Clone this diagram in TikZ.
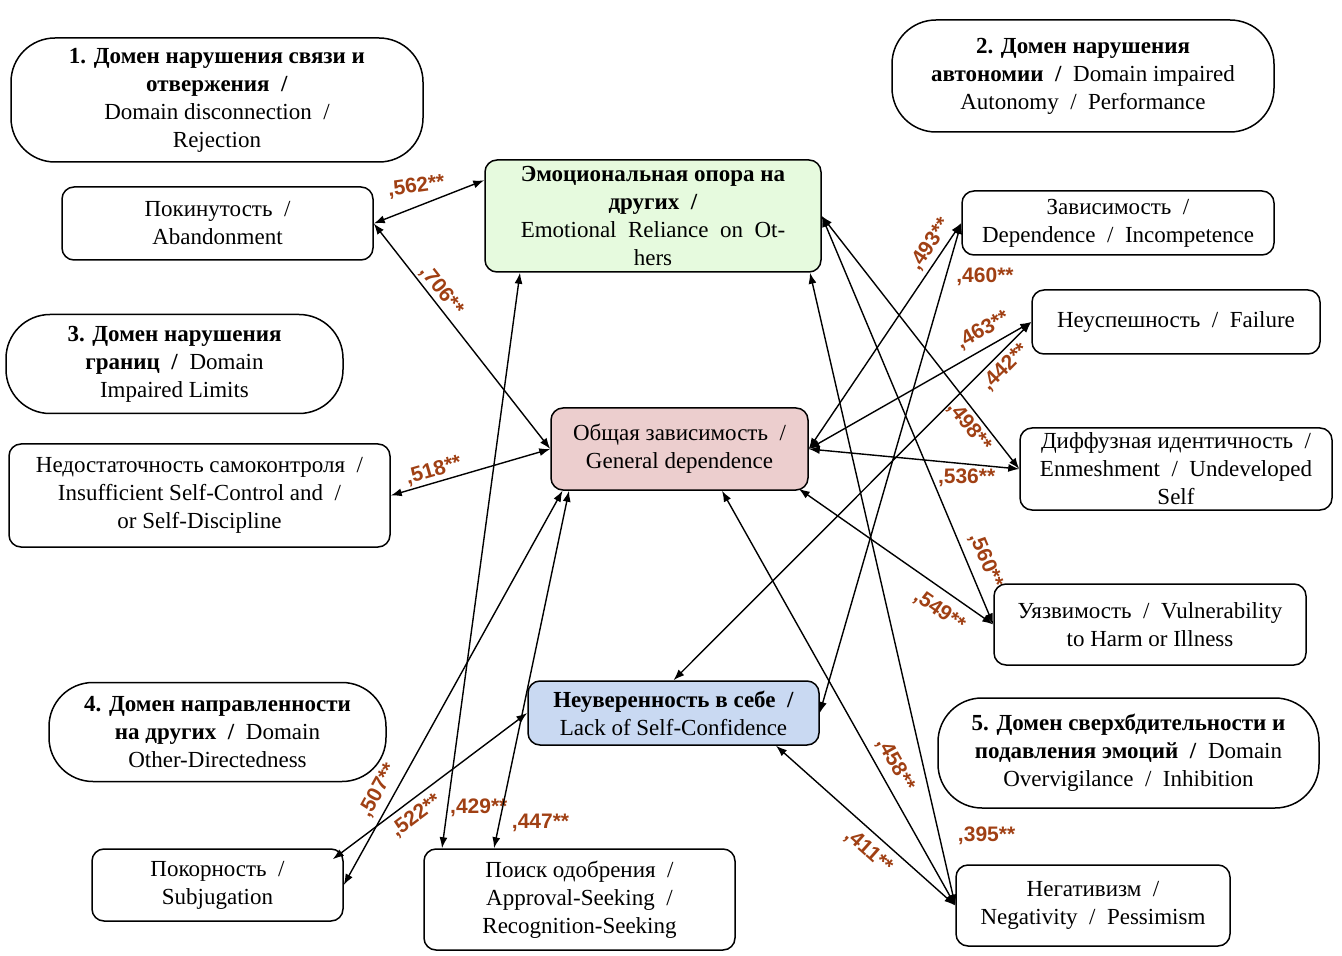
\documentclass[tikz,border=0pt]{standalone}
\usepackage{fontspec}
\setmainfont{Liberation Serif}
\setsansfont{Liberation Sans}
\usetikzlibrary{arrows.meta}

\definecolor{corrc}{RGB}{160,64,20}
\definecolor{ergreen}{RGB}{230,250,222}
\definecolor{gdpink}{RGB}{236,206,206}
\definecolor{lscblue}{RGB}{201,217,242}

\tikzset{
    domainbox/.style={draw, line width=0.75pt, rounded corners=22pt, align=center, inner sep=0pt},
    schemabox/.style={draw, line width=0.75pt, rounded corners=6pt, align=center, inner sep=0pt},
    link/.style={<->, >={Latex[length=5.5pt,width=4pt]}, line width=0.7pt},
    corr/.style={font=\sffamily\bfseries\fontsize{10.5}{12}\selectfont, text=corrc, inner sep=1pt},
}

\begin{document}
\begin{tikzpicture}[x=0.5pt, y=-0.5pt, font=\fontsize{11.5}{14}\selectfont]
\useasboundingbox (0,0) rectangle (1342,956);

% domains
\node[domainbox, minimum width=206pt, minimum height=62pt] (d1) at (217,100)
    {\textbf{1. Домен нарушения связи и}\\\textbf{отвержения~ /}\\Domain disconnection~ /\\Rejection};
\node[domainbox, minimum width=191pt, minimum height=56pt] (d2) at (1083,76)
    {\textbf{2. Домен нарушения}\\\textbf{автономии~ /}~ Domain impaired\\Autonomy~ /~ Performance};
\node[domainbox, minimum width=168.5pt, minimum height=49.5pt] (d3) at (174.5,364)
    {\textbf{3. Домен нарушения}\\\textbf{границ~ /}~ Domain\\Impaired Limits};
\node[domainbox, minimum width=168.5pt, minimum height=49.5pt] (d4) at (217.5,732)
    {\textbf{4. Домен направленности}\\\textbf{на других~ /}~ Domain\\Other-Directedness};
\node[domainbox, minimum width=190.5pt, minimum height=55pt] (d5) at (1128.5,753)
    {\textbf{5. Домен сверхбдительности и}\\\textbf{подавления эмоций~ /}~ Domain\\Overvigilance~ /~ Inhibition};

% schemas
\node[schemabox, minimum width=155.5pt, minimum height=36.5pt] (ab) at (217.5,223.5)
    {Покинутость~ /\\Abandonment};
\node[schemabox, fill=ergreen, minimum width=168pt, minimum height=56pt] (er) at (653,216)
    {\textbf{Эмоциональная опора на}\\\textbf{других~ /}\\Emotional~ Reliance~ on~ Ot-\\hers};
\node[schemabox, minimum width=156pt, minimum height=32pt] (dep) at (1118,223)
    {Зависимость~ /\\Dependence~ /~ Incompetence};
\node[schemabox, minimum width=144pt, minimum height=32pt] (fail) at (1176,322)
    {Неуспешность~ /~ Failure};
\node[schemabox, minimum width=156pt, minimum height=41pt] (enm) at (1176,469)
    {Диффузная идентичность~ /\\Enmeshment~ /~ Undeveloped\\Self};
\node[schemabox, minimum width=156pt, minimum height=40.5pt] (vul) at (1150,624.5)
    {Уязвимость~ /~ Vulnerability\\to Harm or Illness};
\node[schemabox, fill=gdpink, minimum width=128.5pt, minimum height=41pt] (gd) at (679.5,449)
    {Общая зависимость~ /\\General dependence};
\node[schemabox, minimum width=190.5pt, minimum height=51.5pt] (ins) at (199.5,495.5)
    {Недостаточность самоконтроля~ /\\Insufficient Self-Control and~ /\\or Self-Discipline};
\node[schemabox, fill=lscblue, minimum width=145.5pt, minimum height=32pt] (lsc) at (673.5,713)
    {\textbf{Неуверенность в себе~ /}\\Lack of Self-Confidence};
\node[schemabox, minimum width=125.5pt, minimum height=36pt] (sub) at (217.5,885)
    {Покорность~ /\\Subjugation};
\node[schemabox, minimum width=155.5pt, minimum height=50.5pt] (ap) at (579.5,899.5)
    {Поиск одобрения~ /\\Approval-Seeking~ /\\Recognition-Seeking};
\node[schemabox, minimum width=137pt, minimum height=40.5pt] (neg) at (1093,905.5)
    {Негативизм~ /\\Negativity~ /~ Pessimism};

% correlations
\draw[link] (ab.east) -- node[corr, pos=0.4, above=4pt, rotate=8] {,562**} ([yshift=-10.5pt]er.north west);
\draw[link] (ab.east) -- node[corr, pos=0.33, sloped, above] {,706**} (gd.west);
\draw[link] (ins.east) -- node[corr, pos=0.29, sloped, above] {,518**} (gd.west);
\draw[link] ([xshift=-66.5pt]er.south) -- node[corr, pos=0.93, right] {,429**} ([xshift=-68.75pt]ap.north);
\draw[link] ([xshift=78.5pt]er.south) -- node[corr, pos=0.89, right=8pt] {,395**} (neg.west);
\draw[link] (er.east) -- node[corr, pos=0.8, sloped, below=1pt] {,498**} (enm.west);
\draw[link] (gd.east) -- node[corr, pos=0.87, sloped, above=1pt] {,493**} (dep.west);
\draw[link] (dep.west) -- node[corr, pos=0.11, right=4pt] {,460**} (lsc.east);
\draw[link] (gd.east) -- node[corr, pos=0.82, sloped, above=2.5pt] {,463**} (fail.west);
\draw[link] (lsc.north) -- node[corr, pos=0.9, sloped, below=1pt] {,442**} (fail.west);
\draw[link] (gd.east) -- node[corr, pos=0.75, below=1pt] {,536**} (enm.west);
\draw[link] ([xshift=-5pt,yshift=1pt]gd.south east) -- node[corr, pos=0.78, sloped, below=4pt] {,549**} (vul.west);
\draw[link] (er.east) -- node[corr, pos=0.86, sloped, above=3pt] {,560**} (vul.west);
\draw[link] (sub.east) -- node[corr, pos=0.22, sloped, above=2pt] {,507**} ([xshift=-58.5pt]gd.south);
\draw[link] ([xshift=-5.5pt,yshift=-5.5pt]sub.north east) -- node[corr, pos=0.38, sloped, below=2pt] {,522**} (lsc.west);
\draw[link] ([xshift=-55.25pt]gd.south) -- node[corr, pos=0.93, right=5pt] {,447**} ([xshift=-42.75pt]ap.north);
\draw[link] ([xshift=21.25pt]gd.south) -- node[corr, pos=0.68, sloped, above=2.5pt] {,458**} (neg.west);
\draw[link] ([xshift=51.25pt]lsc.south) -- node[corr, pos=0.58, sloped, below=3pt] {,411**} (neg.west);
\end{tikzpicture}
\end{document}
